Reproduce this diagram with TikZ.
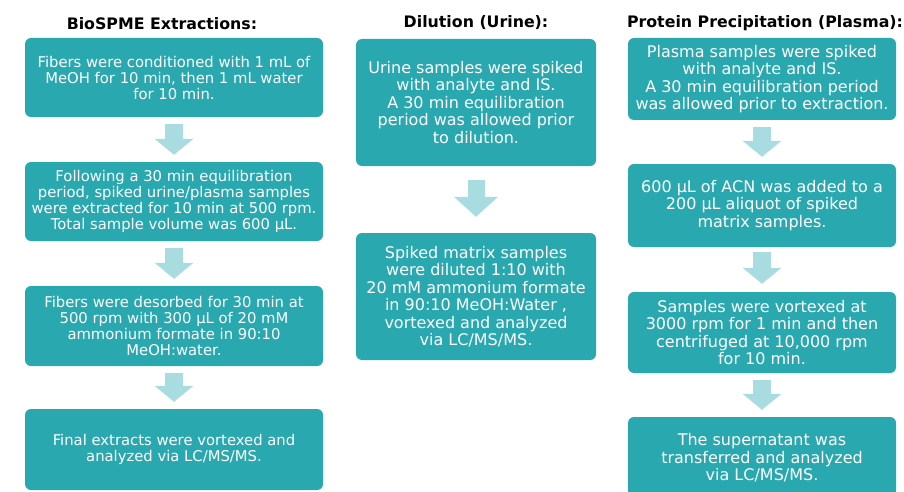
\documentclass[tikz,border=0pt]{standalone}
\usepackage{fontspec}
\setmainfont{DejaVu Sans}
\usetikzlibrary{arrows.meta}
\definecolor{boxteal}{RGB}{42,168,176}
\definecolor{arrowteal}{RGB}{168,220,224}
\begin{document}
\begin{tikzpicture}[x=1pt,y=-1pt,
	box/.style={fill=boxteal, rounded corners=6pt, text=white, align=center, inner sep=0pt, font=\fontsize{16}{17.5}\selectfont},
	smallbox/.style={box, font=\fontsize{14.8}{16}\selectfont},
	head/.style={text=black, font=\bfseries\fontsize{15.8}{18}\selectfont},
	flow/.style={draw=arrowteal, line width=18pt, -{Triangle[width=38pt,length=16pt]}},
	bigflow/.style={draw=arrowteal, line width=17pt, -{Triangle[width=43pt,length=20pt]}}]
			\useasboundingbox (0,0) rectangle (904,492);
			\clip (0,0) rectangle (904,492);
			\node[head] (AT) at (162,24) {BioSPME Extractions:};
			\node[head] (BT) at (476,23) {Dilution (Urine):};
			\node[head] (CT) at (765,23) {Protein Precipitation (Plasma):};
			
			\node[smallbox, minimum width=298pt, minimum height=79pt] (AA) at (174,77.5) {Fibers were conditioned with 1 mL of\\MeOH for 10 min, then 1 mL water\\for 10 min.};
			\node[smallbox, minimum width=298pt, minimum height=79pt] (AB) at (174,201.5) {Following a 30 min equilibration\\period, spiked urine/plasma samples\\were extracted for 10 min at 500 rpm.\\Total sample volume was 600 µL.};
			\node[smallbox, minimum width=298pt, minimum height=80pt] (AC) at (174,326) {Fibers were desorbed for 30 min at\\500 rpm with 300 µL of 20 mM\\ammonium formate in 90:10\\MeOH:water.};
			\node[smallbox, minimum width=298pt, minimum height=81pt] (AD) at (174,449.5) {Final extracts were vortexed and\\analyzed via LC/MS/MS.};
			
			\node[box, minimum width=240pt, minimum height=127pt] (BA) at (476,102.5) {Urine samples were spiked\\with analyte and IS.\\A 30 min equilibration\\period was allowed prior\\to dilution.};
			\node[box, minimum width=240pt, minimum height=127pt] (BB) at (476,296.5) {Spiked matrix samples\\were diluted 1:10 with\\20 mM ammonium formate\\in 90:10 MeOH:Water ,\\vortexed and analyzed\\via LC/MS/MS.};
			
			\node[box, minimum width=268pt, minimum height=82pt] (CA) at (762,79) {Plasma samples were spiked\\with analyte and IS.\\ A 30 min equilibration period\\was allowed prior to extraction.};
			\node[box, minimum width=268pt, minimum height=83pt] (CB) at (762,205.5) {600 µL of ACN was added to a\\200 µL aliquot of spiked\\matrix samples.};
			\node[box, minimum width=268pt, minimum height=81pt] (CC) at (762,332.5) {Samples were vortexed at\\3000 rpm for 1 min and then\\centrifuged at 10,000 rpm\\for 10 min.};
			\node[box, minimum width=268pt, minimum height=82pt] (CD) at (762,458) {The supernatant was\\transferred and analyzed\\via LC/MS/MS.};
			
			\draw[flow] ([yshift=-7pt]AA.south)--([yshift=7pt]AB.north);
			\draw[flow] ([yshift=-7pt]AB.south)--([yshift=7pt]AC.north);
			\draw[flow] ([yshift=-7pt]AC.south)--([yshift=7pt]AD.north);
			\draw[bigflow] ([yshift=-14pt]BA.south)--([yshift=16pt]BB.north);
			\draw[flow] ([yshift=-7pt]CA.south)--([yshift=7pt]CB.north);
			\draw[flow] ([yshift=-5pt]CB.south)--([yshift=8pt]CC.north);
			\draw[flow] ([yshift=-7pt]CC.south)--([yshift=7pt]CD.north);
\end{tikzpicture}
\end{document}
